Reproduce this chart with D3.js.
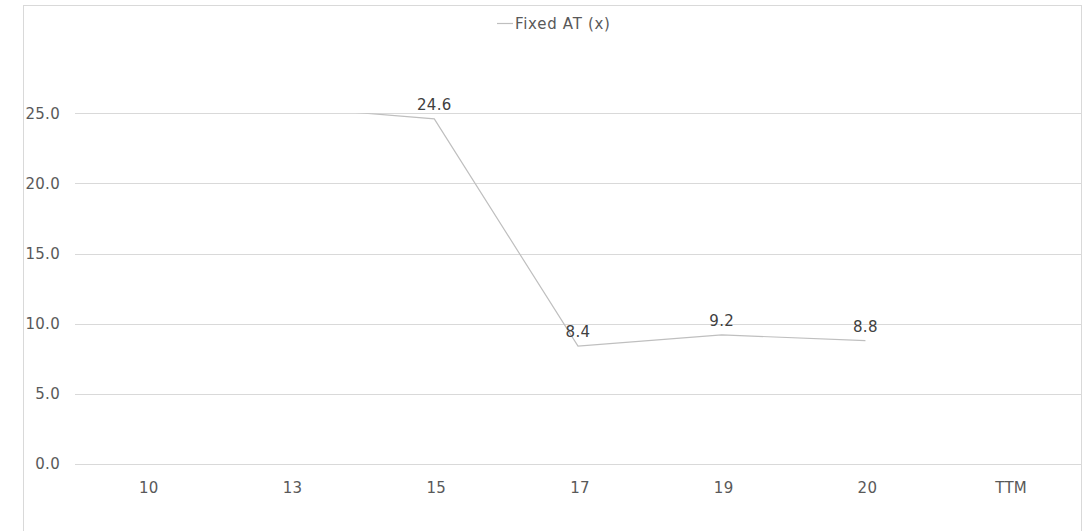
<!DOCTYPE html>
<html><head><meta charset="utf-8">
<script src="https://cdn.jsdelivr.net/npm/d3@7"></script>
<style>body{margin:0;background:#fff;}svg{display:block;font-family:"DejaVu Sans",Verdana,sans-serif;}</style>
</head><body>
<svg id="c" width="1089" height="531"></svg>
<script>
const categories = ["10","13","15","17","19","20","TTM"];
const values = [null, 25.45, 24.6, 8.4, 9.2, 8.8, null];
const yTicks = [0,5,10,15,20,25];
const seriesName = "Fixed AT (x)";

const svg = d3.select("#c");
const textColor = "#595959", gridColor = "#d9d9d9", lineColor = "#bfbfbf";

svg.append("rect").attr("x",23.5).attr("y",5.5).attr("width",1058).attr("height",540)
  .attr("fill","none").attr("stroke",gridColor);

const x = d3.scaleBand().domain(categories).range([75,1081]);
const y = d3.scaleLinear().domain([0,25]).range([464,113.3]);

svg.append("g").selectAll("line").data(yTicks).join("line")
  .attr("x1",75).attr("x2",1081)
  .attr("y1",d=>Math.round(y(d))+0.5).attr("y2",d=>Math.round(y(d))+0.5)
  .attr("stroke",gridColor);

svg.append("g").selectAll("text").data(yTicks).join("text")
  .attr("x",60).attr("y",d=>y(d)).attr("dy","0.36em")
  .attr("text-anchor","end").attr("font-size",15).attr("fill",textColor)
  .attr("letter-spacing",0.3)
  .text(d=>d3.format(".1f")(d));

svg.append("g").selectAll("text").data(categories).join("text")
  .attr("x",d=>x(d)+x.bandwidth()/2+2).attr("y",493)
  .attr("text-anchor","middle").attr("font-size",15).attr("fill",textColor)
  .attr("letter-spacing",0.3)
  .text(d=>d);

svg.append("clipPath").attr("id","plot").append("rect")
  .attr("x",75).attr("y",y(25)).attr("width",1006).attr("height",y(0)-y(25));

const pts = categories.map((c,i)=>({c,v:values[i]}));
const line = d3.line().defined(d=>d.v!=null)
  .x(d=>x(d.c)+x.bandwidth()/2).y(d=>y(d.v));
svg.append("path").datum(pts).attr("d",line).attr("fill","none")
  .attr("stroke",lineColor).attr("stroke-width",1.2).attr("clip-path","url(#plot)");

svg.append("g").selectAll("text").data(pts.filter(d=>d.v!=null && d.v<=25)).join("text")
  .attr("x",d=>x(d.c)+x.bandwidth()/2).attr("y",d=>y(d.v)-9)
  .attr("text-anchor","middle").attr("font-size",15).attr("fill","#404040")
  .attr("letter-spacing",0.3)
  .text(d=>d3.format(".1f")(d.v));

const lg = svg.append("g");
lg.append("line").attr("x1",497).attr("x2",513).attr("y1",23.5).attr("y2",23.5)
  .attr("stroke",lineColor).attr("stroke-width",1.2);
lg.append("text").attr("x",515).attr("y",29).attr("font-size",15).attr("fill",textColor)
  .attr("letter-spacing",0.7).text(seriesName);
</script>
</body></html>
